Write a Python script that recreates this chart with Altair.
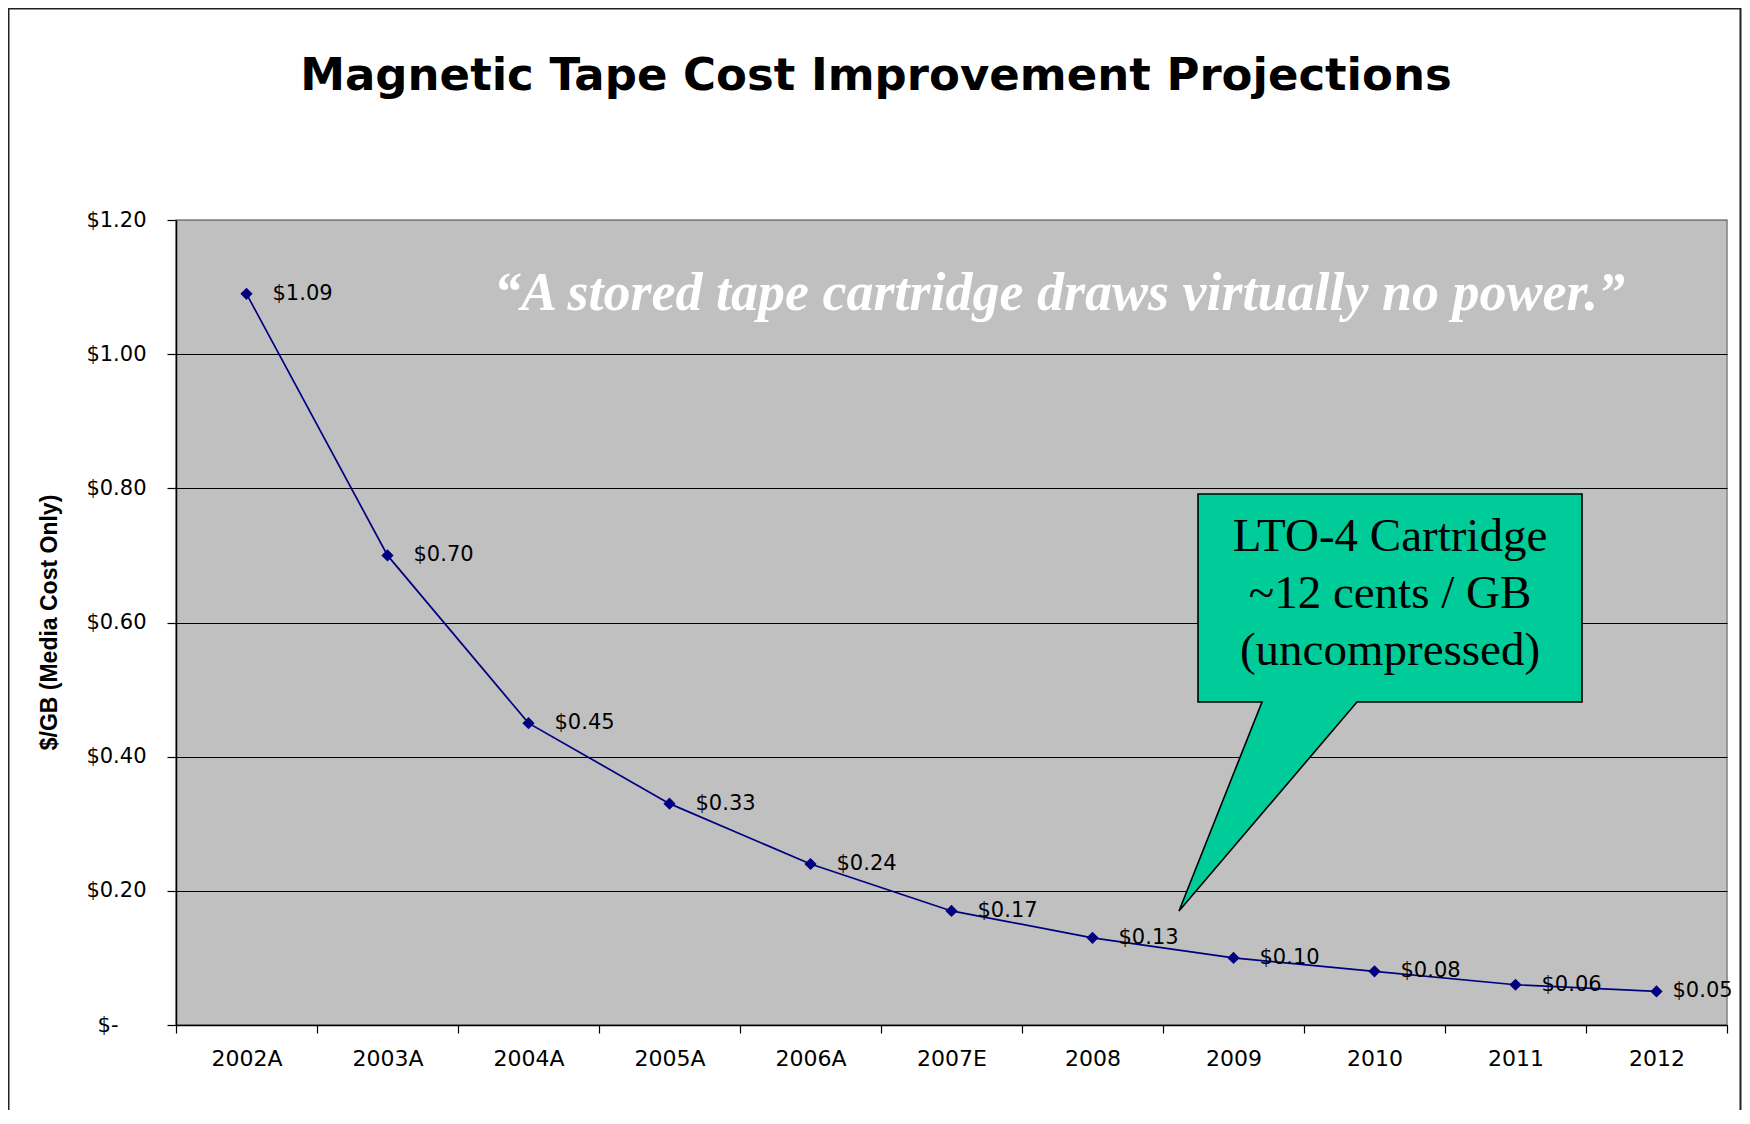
import altair as alt
import pandas as pd

# ---- data ----
years = ["2002A", "2003A", "2004A", "2005A", "2006A", "2007E",
         "2008", "2009", "2010", "2011", "2012"]
cost = [1.09, 0.70, 0.45, 0.33, 0.24, 0.17, 0.13, 0.10, 0.08, 0.06, 0.05]
y_ticks = [0, 0.2, 0.4, 0.6, 0.8, 1.0, 1.2]

title_text = "Magnetic Tape Cost Improvement Projections"
y_title = "$/GB (Media Cost Only)"
quote = "\u201cA stored tape cartridge draws virtually no power.\u201d"
callout_lines = ["LTO-4 Cartridge", "~12 cents / GB", "(uncompressed)"]

W, H = 1551, 805

df = pd.DataFrame({"year": years, "cost": cost})
df["label"] = ["$%.2f" % v for v in cost]
df["last"] = [i == len(years) - 1 for i in range(len(years))]
one = pd.DataFrame({"k": [0]})

x_enc = alt.X(
    "year:N", sort=years,
    scale=alt.Scale(type="band", paddingInner=0, paddingOuter=0),
    bandPosition=0.5,
    axis=alt.Axis(title=None, tickBand="extent", labelAngle=0, grid=False,
                  tickSize=8, labelPadding=15, labelFont="DejaVu Sans",
                  labelFontSize=22, labelColor="black", domainColor="black",
                  domainWidth=1.5, tickColor="black", tickWidth=1.2),
)
y_enc = alt.Y(
    "cost:Q",
    scale=alt.Scale(domain=[0, 1.2], nice=False, zero=True),
    axis=alt.Axis(
        values=y_ticks, title=None, grid=True,
        gridColor={"condition": {"test": "datum.value > 1.19", "value": "#808080"},
                   "value": "black"},
        gridWidth=1.2,
        labelExpr="datum.value == 0 ? '$-' : '$' + format(datum.value, '.2f')",
        labelPadding={"condition": {"test": "datum.value == 0", "value": 49},
                      "value": 21},
        tickSize=9, labelFont="DejaVu Sans", labelFontSize=21,
        labelColor="black", domainColor="black", domainWidth=1.5,
        tickColor="black", tickWidth=1.2,
    ),
)

base = alt.Chart(df)

border = alt.Chart(one).mark_rect(fillOpacity=0, stroke="#222222", strokeWidth=2).encode(
    x=alt.value(-167.5), x2=alt.value(1564.5), y=alt.value(-211.5), y2=alt.value(950)
)

line = base.mark_line(color="#000080", strokeWidth=1.7).encode(x=x_enc, y=y_enc)
pts = base.mark_point(shape="diamond", filled=True, size=150, color="#000080",
                      opacity=1).encode(x=x_enc, y=y_enc)
labels = base.mark_text(align="left", baseline="middle", dx=26, font="DejaVu Sans",
                        fontSize=21, color="black").encode(
    x=x_enc, y=y_enc, text="label:N").transform_filter("!datum.last")
label_last = base.mark_text(align="left", baseline="middle", dx=16, font="DejaVu Sans",
                            fontSize=21, color="black").encode(
    x=x_enc, y=y_enc, text="label:N").transform_filter("datum.last")

quote_layer = alt.Chart(one).mark_text(
    font="Liberation Serif", fontSize=54, fontStyle="italic", fontWeight="bold",
    color="white", align="center", baseline="alphabetic"
).encode(x=alt.value(883.5), y=alt.value(90), text=alt.value(quote))

callout_path = "M1022,274 L1406,274 L1406,482 L1181,482 L1003,691 L1086,482 L1022,482 Z"
callout = alt.Chart(one).mark_point(
    shape=callout_path, size=4, filled=True, fill="#00CC99", stroke="black",
    strokeWidth=1.6, opacity=1
).encode(x=alt.value(0), y=alt.value(0))

callout_texts = [
    alt.Chart(one).mark_text(font="Liberation Serif", fontSize=47, color="black",
                             align="center", baseline="alphabetic").encode(
        x=alt.value(1214), y=alt.value(yy), text=alt.value(t))
    for t, yy in zip(callout_lines, [331, 388, 445])
]

title_layer = alt.Chart(one).mark_text(
    font="DejaVu Sans", fontSize=45, fontWeight="bold", color="black",
    align="center", baseline="alphabetic"
).encode(x=alt.value(700), y=alt.value(-130), text=alt.value(title_text))

ytitle_layer = alt.Chart(one).mark_text(
    font="Liberation Sans", fontSize=23, fontWeight="bold", color="black",
    align="center", baseline="middle", angle=270
).encode(x=alt.value(-126), y=alt.value(402.5), text=alt.value(y_title))

chart = alt.layer(
    line, pts, labels, label_last, quote_layer, callout, *callout_texts,
    title_layer, ytitle_layer, border
).properties(
    width=W, height=H,
    autosize=alt.AutoSizeParams(type="none"),
    padding={"left": 168, "top": 212, "right": 15, "bottom": 85},
    background="white",
).configure_view(
    fill="#C0C0C0", stroke="#808080", strokeWidth=1.5
)

chart.save("out.html", embed_options={"renderer": "svg", "actions": False})
